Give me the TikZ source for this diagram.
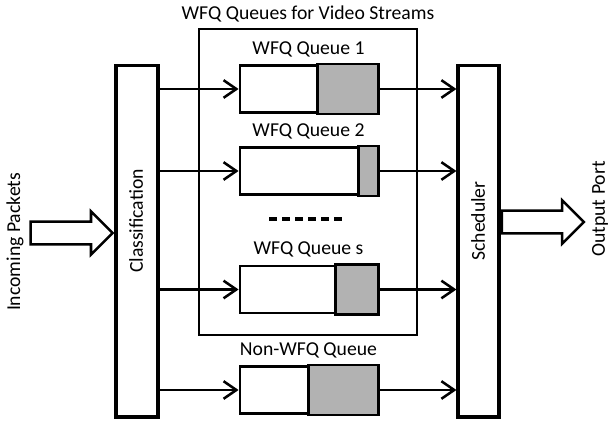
\documentclass[tikz,border=0pt]{standalone}
\usepackage{fontspec}
\setmainfont{Carlito}
\usetikzlibrary{arrows.meta, calc, positioning, shapes.arrows}

\begin{document}
\begin{tikzpicture}[
    x=0.025cm, y=-0.025cm,       % 1 Einheit = 1 Pixel der Vorlage
    font=\fontsize{14}{16}\selectfont,
    block/.style={draw, line width=2.2pt, minimum width=1.05cm, minimum height=8.775cm, inner sep=0pt},
    queue/.style={draw, line width=2pt, minimum width=3.425cm, minimum height=1.175cm, inner sep=0pt},
    qfill/.style={draw, fill=gray!60, line width=2pt},
    qlabel/.style={anchor=base, inner sep=0pt},
    vlabel/.style={rotate=90},
    arrow/.style={-{Straight Barb[length=3.2mm,width=4.4mm]}, line width=1.8pt},
    hollow/.style={single arrow, draw, line width=1.8pt, inner xsep=0pt, inner ysep=0.25cm, minimum height=2.05cm, single arrow head extend=0.26cm, single arrow head indent=0pt}
  ]
  \useasboundingbox (0,0) rectangle (608,426);

  % Rahmen fuer die WFQ-Warteschlangen
  \node[draw, line width=1.2pt, minimum width=5.45cm, minimum height=7.65cm] (wfq) at (308,182) {};
  \node[qlabel] at ([yshift=0.225cm]wfq.north) {WFQ Queues for Video Streams};

  % Klassifizierung und Scheduler (vertikale Balken)
  \node[block] (cls) at (137,241.5) {};
  \node[vlabel] at (136,221) {Classification};

  \node[block, minimum width=1.025cm] (sch) at (478.5,241.5) {};
  \node[vlabel] at (478,221) {Scheduler};

  % Warteschlangen
  \node[queue] (q1) at (308.5,89)  {};
  \draw[qfill] ([xshift=-1.525cm]q1.north east) rectangle (q1.south east);
  \node[qlabel] at ([yshift=0.25cm]q1.north) {WFQ Queue 1};

  \node[queue] (q2) at (308.5,171) {};
  \draw[qfill] ([xshift=-0.5cm]q2.north east) rectangle (q2.south east);
  \node[qlabel] at ([yshift=0.25cm]q2.north) {WFQ Queue 2};

  \node[queue] (qs) at (308.5,289.5) {};
  \draw[qfill] ([xshift=-1.075cm]qs.north east) rectangle (qs.south east);
  \node[qlabel] at ([yshift=0.25cm]qs.north) {WFQ Queue s};

  \node[queue] (qn) at (308.5,390) {};
  \draw[qfill] ([xshift=-1.75cm]qn.north east) rectangle (qn.south east);
  \node[qlabel] at ([yshift=0.25cm]qn.north) {Non-WFQ Queue};

  % Auslassungsstriche
  \coordinate (dotsL) at (269,219);
  \coordinate (dotsR) at (343,219);
  \draw[line width=2.2pt, dash pattern=on 0.2cm off 0.125cm] (dotsL) -- (dotsR);

  % Pfeile Klassifizierung -> Queues -> Scheduler
  \draw[arrow] (cls.east |- q1.west) -- (q1.west);
  \draw[arrow] (cls.east |- q2.west) -- (q2.west);
  \draw[arrow] (cls.east |- qs.west) -- (qs.west);
  \draw[arrow] (cls.east |- qn.west) -- (qn.west);

  \draw[arrow] (q1.east) -- (sch.west |- q1.east);
  \draw[arrow] (q2.east) -- (sch.west |- q2.east);
  \draw[arrow] (qs.east) -- (sch.west |- qs.east);
  \draw[arrow] (qn.east) -- (sch.west |- qn.east);

  % Ein- und Ausgang
  \node[hollow, anchor=tip] (inarr) at (cls.west |- 0,233) {};
  \node[vlabel] at (15,242) {Incoming Packets};

  \node[hollow, anchor=tail] (outarr) at (sch.east |- 0,222) {};
  \node[vlabel] at (600,209) {Output Port};

\end{tikzpicture}
\end{document}
